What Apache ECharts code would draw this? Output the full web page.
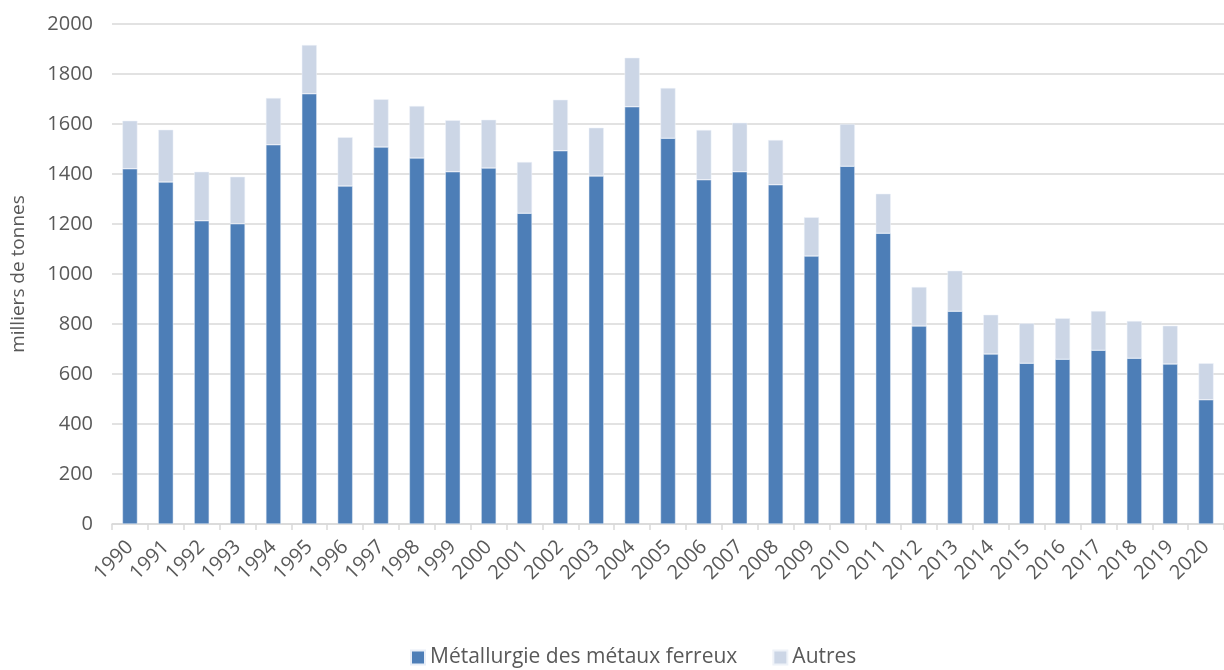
<!DOCTYPE html>
<html>
<head>
<meta charset="utf-8">
<script src="https://cdn.jsdelivr.net/npm/echarts@6/dist/echarts.min.js"></script>
<style>
html,body{margin:0;padding:0;background:#fff;}
#chart{width:1224px;height:670px;}
</style>
</head>
<body>
<div id="chart"></div>
<script>
const years = ['1990','1991','1992','1993','1994','1995','1996','1997','1998','1999','2000','2001','2002','2003','2004','2005','2006','2007','2008','2009','2010','2011','2012','2013','2014','2015','2016','2017','2018','2019','2020'];
const metallurgie = [1421,1368,1213,1201,1517,1721,1352,1508,1464,1409,1424,1243,1493,1392,1669,1543,1377,1409,1357,1072,1431,1163,792,851,680,643,659,695,663,640,497];
const autres = [192,209,196,188,187,195,195,191,208,206,193,205,204,193,196,201,199,196,179,155,169,158,156,162,157,160,164,157,149,153,146];
const yTicks = [0,200,400,600,800,1000,1200,1400,1600,1800,2000];

const FONT = 'Open Sans';
const TXT = '#595959';
const FS = 20;
const chart = echarts.init(document.getElementById('chart'));
chart.setOption({
  animation: false,
  textStyle: {fontFamily: FONT},
  grid: {left: 112, top: 24, width: 1124, height: 500, containLabel: false},
  legend: {
    top: 647, left: 410, itemWidth: 14, itemHeight: 14, itemGap: 35,
    icon: 'rect', padding: 0,
    textStyle: {fontFamily: FONT, fontSize: 21, color: TXT},
    data: ['Métallurgie des métaux ferreux', 'Autres']
  },
  xAxis: {
    type: 'category', data: years,
    axisLine: {lineStyle: {color: '#D9D9D9', width: 1.5}},
    axisTick: {show: true, length: 6, lineStyle: {color: '#D9D9D9', width: 1.5}},
    axisLabel: {rotate: 45, interval: 0, fontFamily: FONT, fontSize: FS, color: TXT, margin: 20}
  },
  yAxis: {
    type: 'value', min: yTicks[0], max: yTicks[yTicks.length - 1], interval: 200,
    name: 'milliers de tonnes', nameLocation: 'middle', nameGap: 84,
    nameTextStyle: {fontFamily: FONT, fontSize: FS - 1, color: TXT},
    axisLine: {show: false}, axisTick: {show: false},
    axisLabel: {fontFamily: FONT, fontSize: FS, color: TXT, margin: 19, formatter: v => String(v)},
    splitLine: {lineStyle: {color: '#D9D9D9', width: 1.5}}
  },
  series: [
    {name: 'Métallurgie des métaux ferreux', type: 'bar', stack: 's', data: metallurgie,
     barWidth: 15, itemStyle: {color: '#4D7EB7', borderColor: '#E8EEF7', borderWidth: 0.5}},
    {name: 'Autres', type: 'bar', stack: 's', data: autres,
     barWidth: 15, itemStyle: {color: '#CCD6E6', borderColor: '#EEF2F8', borderWidth: 0.5}}
  ]
});
</script>
</body>
</html>
